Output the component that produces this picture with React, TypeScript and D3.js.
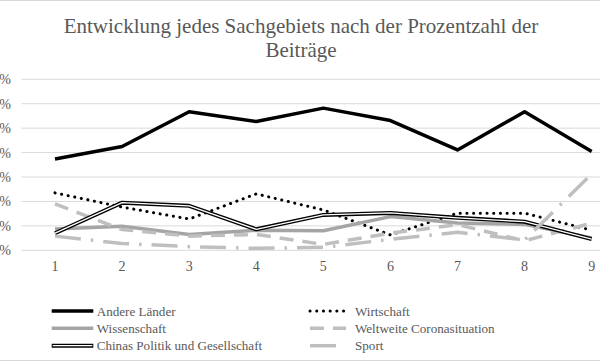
import { useRef, useEffect } from 'react';
import * as d3 from 'd3';

const CATEGORIES = ['1', '2', '3', '4', '5', '6', '7', '8', '9'];
const Y_TICKS = [0, 10, 20, 30, 40, 50, 60, 70];

const ANDERE = [37.4, 42.5, 56.7, 52.7, 58.2, 53.1, 41.1, 56.7, 40.4];
const WIRTSCHAFT = [23.5, 17.7, 12.8, 23.1, 16.5, 6.3, 15.2, 15.2, 8.2];
const WISSENSCHAFT = [8.7, 9.8, 6.5, 8.2, 8.0, 13.8, 11.2, 10.6, 5.0];
const CORONA = [19.0, 8.5, 5.8, 6.5, 2.4, 7.0, 10.5, 3.9, 11.1];
const CHINA = [7.0, 19.5, 18.2, 8.6, 14.5, 15.3, 13.3, 11.7, 4.6];
const SPORT = [5.8, 2.8, 1.5, 0.8, 1.2, 4.5, 7.4, 4.2, 31.3];

interface Series {
  name: string;
  values: number[];
  color: string;
  width: number;
  dash?: string;
  cap?: string;
  double?: boolean;
}

const SERIES: Series[] = [
  { name: 'Andere Länder', values: ANDERE, color: '#000000', width: 3.5 },
  { name: 'Wirtschaft', values: WIRTSCHAFT, color: '#000000', width: 3, dash: '0.1 6.6', cap: 'round' },
  { name: 'Wissenschaft', values: WISSENSCHAFT, color: '#a5a5a5', width: 3.5 },
  { name: 'Weltweite Coronasituation', values: CORONA, color: '#bfbfbf', width: 3.5, dash: '14 9' },
  { name: 'Chinas Politik und Gesellschaft', values: CHINA, color: '#000000', width: 4, double: true },
  { name: 'Sport', values: SPORT, color: '#bfbfbf', width: 3.5, dash: '26 10 2.5 10' },
];

const FONT = 'Liberation Serif';

export default function App() {
  const ref = useRef<SVGSVGElement>(null);

  useEffect(() => {
    const svg = ref.current;
    if (!svg) return;
    const W = 600, H = 363;
    d3.select(svg).selectAll('*').remove();
    const g = d3.select(svg).attr('width', W).attr('height', H).attr('viewBox', `0 0 ${W} ${H}`).append('g');

    g.append('rect').attr('x', 0).attr('y', 0).attr('width', W).attr('height', H).attr('fill', '#ffffff');
    // chart border (cropped at left/right)
    g.append('line').attr('x1', 0).attr('x2', W).attr('y1', 0.5).attr('y2', 0.5).attr('stroke', '#d9d9d9');
    g.append('line').attr('x1', 0).attr('x2', W).attr('y1', 360.5).attr('y2', 360.5).attr('stroke', '#d9d9d9');

    const x = d3.scalePoint<string>().domain(CATEGORIES).range([55, 591.7]);
    const y = d3.scaleLinear().domain([0, 70]).range([250.3, 79.3]);
    const plotL = 21.5;

    // grid + y labels (cut off at the left edge like the reference)
    Y_TICKS.forEach((v) => {
      g.append('line').attr('x1', plotL).attr('x2', W).attr('y1', y(v)).attr('y2', y(v))
        .attr('stroke', '#d9d9d9').attr('stroke-width', 1);
      g.append('text').attr('x', 11).attr('y', y(v) + 5).attr('text-anchor', 'end')
        .attr('font-family', FONT).attr('font-size', 14).attr('fill', '#595959').text(`${v}%`);
    });

    // x labels
    CATEGORIES.forEach((c) => {
      g.append('text').attr('x', x(c)!).attr('y', 270.5).attr('text-anchor', 'middle')
        .attr('font-family', FONT).attr('font-size', 14).attr('fill', '#595959').text(c);
    });

    const line = d3.line<number>().x((_, i) => x(CATEGORIES[i])!).y((d) => y(d));

    SERIES.forEach((s) => {
      const p = g.append('path').attr('d', line(s.values)).attr('fill', 'none')
        .attr('stroke', s.color).attr('stroke-width', s.width)
        .attr('stroke-linejoin', 'round').attr('stroke-linecap', s.cap || 'butt');
      if (s.dash) p.attr('stroke-dasharray', s.dash);
      if (s.double) {
        g.append('path').attr('d', line(s.values)).attr('fill', 'none')
          .attr('stroke', '#ffffff').attr('stroke-width', 1.3).attr('stroke-linejoin', 'round');
      }
    });

    // title
    g.append('text').attr('x', 301).attr('y', 32.5).attr('text-anchor', 'middle')
      .attr('font-family', FONT).attr('font-size', 21).attr('fill', '#595959')
      .text('Entwicklung jedes Sachgebiets nach der Prozentzahl der');
    g.append('text').attr('x', 301).attr('y', 57).attr('text-anchor', 'middle')
      .attr('font-family', FONT).attr('font-size', 21).attr('fill', '#595959')
      .text('Beiträge');

    // legend
    const colX = [51.7, 310];
    const rowY = [311, 328.3, 345.7];
    SERIES.forEach((s, i) => {
      const lx = colX[i % 2];
      const ly = rowY[Math.floor(i / 2)];
      const seg = g.append('line').attr('x1', lx).attr('x2', lx + (i % 2 ? 36 : 41.6)).attr('y1', ly).attr('y2', ly)
        .attr('stroke', s.color).attr('stroke-width', s.width).attr('stroke-linecap', s.cap || 'butt');
      if (s.dash) seg.attr('stroke-dasharray', s.dash);
      if (s.double) {
        g.append('line').attr('x1', lx + 1).attr('x2', lx + 40.6).attr('y1', ly).attr('y2', ly)
          .attr('stroke', '#ffffff').attr('stroke-width', 1.3);
      }
      g.append('text').attr('x', i % 2 ? 355 : 96.7).attr('y', ly + 4.6)
        .attr('font-family', FONT).attr('font-size', 13.1).attr('fill', '#595959').text(s.name);
    });
  }, []);

  return (
    <div style={{ position: 'absolute', left: 0, top: 0, width: 600, height: 363, background: '#fff' }}>
      <svg ref={ref} style={{ display: 'block' }} />
    </div>
  );
}
